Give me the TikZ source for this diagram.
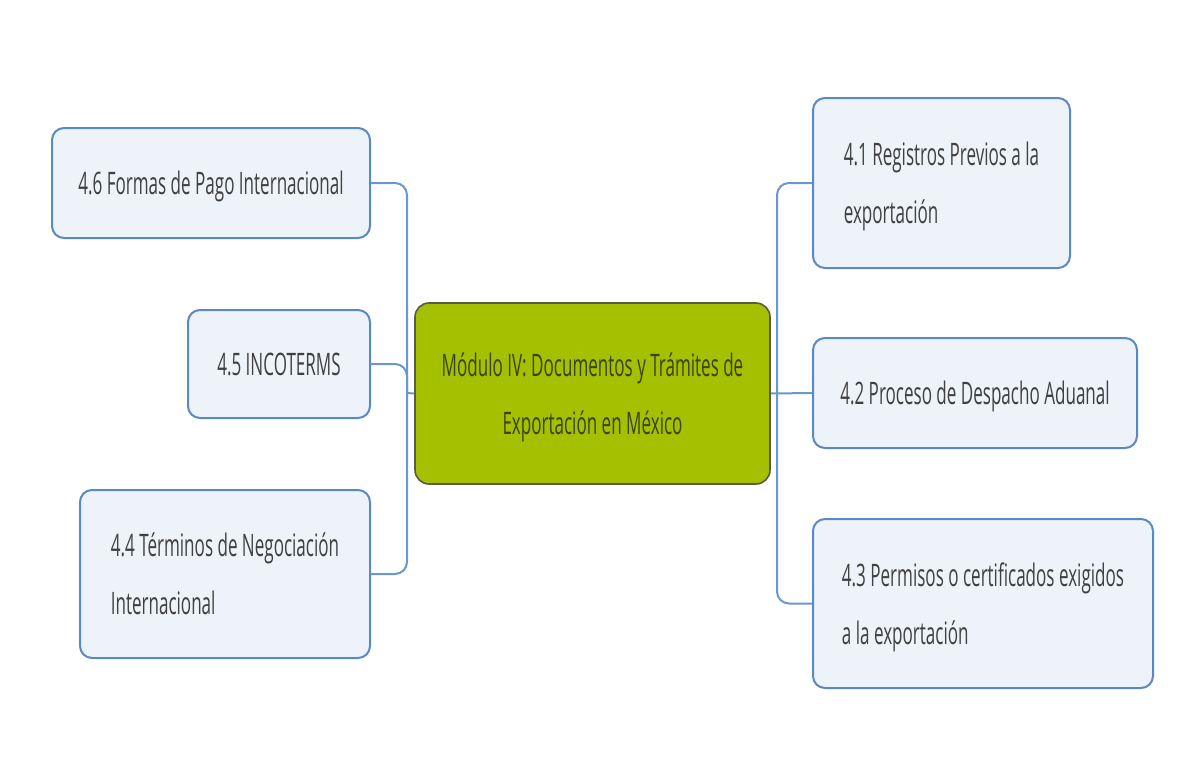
\documentclass[tikz,border=0pt]{standalone}
\usepackage{fontspec}
\setmainfont[FakeStretch=0.55]{Open Sans}
\definecolor{leafline}{HTML}{5A8AC6}
\definecolor{leaffill}{HTML}{EEF3FA}
\definecolor{linkblue}{HTML}{6B97CF}
\definecolor{hubfill}{HTML}{A5C000}
\definecolor{hubline}{HTML}{5A5A4A}
\definecolor{hubtext}{HTML}{3A4418}
\definecolor{leaftext}{HTML}{404040}
\tikzset{
	leaf/.style={draw=leafline, fill=leaffill, line width=1pt, rounded corners=6pt,
		align=left, inner sep=0pt, text depth=0pt, text=leaftext},
	hub/.style={draw=hubline, fill=hubfill, line width=0.8pt, rounded corners=7pt,
		align=center, text depth=0pt, text=hubtext, minimum width=177.5pt, minimum height=90.5pt},
	link/.style={draw=linkblue, line width=1pt, rounded corners=6pt}
}
\begin{document}
\begin{tikzpicture}[x=0.5pt,y=-0.5pt,font=\fontsize{15.5}{29}\selectfont]
		\useasboundingbox (0,0) rectangle (1189,771);
		%% centre
		\node[hub] (modulo) at (592.5,393.5) {Módulo IV: Documentos y Trámites de\\Exportación en México};
		%% left side
		\node[leaf, minimum width=159pt, minimum height=55pt] (formas) at (211,183) {4.6 Formas de Pago Internacional};
		\node[leaf, minimum width=91pt, minimum height=54pt] (incoterms) at (279,364) {4.5 INCOTERMS};
		\node[leaf, minimum width=145pt, minimum height=84pt] (terminos) at (225,574) {4.4 Términos de Negociación\\Internacional};
		%% right side
		\node[leaf, minimum width=128.5pt, minimum height=85pt] (registros) at (941.5,183) {4.1 Registros Previos a la\\exportación};
		\node[leaf, minimum width=162pt, minimum height=55pt] (despacho) at (975,393) {4.2 Proceso de Despacho Aduanal};
		\node[leaf, minimum width=170pt, minimum height=84.5pt] (permisos) at (983,603.5) {4.3 Permisos o certificados exigidos\\a la exportación};
		%% links
		\coordinate (lhub) at (407,393);
		\coordinate (rhub) at (777,393);
		\draw[link] (modulo.west) -- (lhub);
		\draw[link] (formas.east) -| (lhub);
		\draw[link] (incoterms.east) -| (lhub);
		\draw[link] (terminos.east) -| (lhub);
		\draw[link] (modulo.east) -- (despacho.west);
		\draw[link] (registros.west) -| (rhub);
		\draw[link] (permisos.west) -| (rhub);
	\end{tikzpicture}
\end{document}
